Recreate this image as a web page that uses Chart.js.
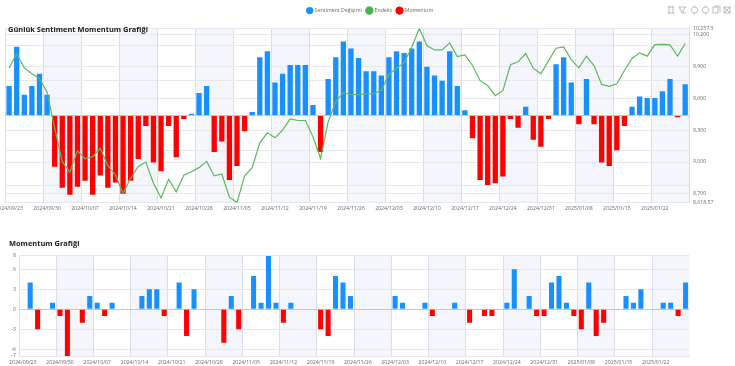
<!DOCTYPE html>
<html><head><meta charset="utf-8">
<script src="https://cdn.jsdelivr.net/npm/chart.js@4"></script>
<style>
html,body{margin:0;padding:0;background:#fff;overflow:hidden;width:735px;height:366px}
canvas{position:absolute}
#wrap{position:absolute;left:0;top:0;width:735px;height:366px;overflow:hidden;filter:blur(0.35px)}
#tools{position:absolute;left:666px;top:4px}
</style></head><body>
<div id="wrap">
<div style="position:absolute;left:-32px;top:0;width:795px;height:222px"><canvas id="c1" style="left:0;top:0"></canvas></div>
<div style="position:absolute;left:0;top:230px;width:735px;height:136px"><canvas id="c2" style="left:0;top:0"></canvas></div>
<svg id="tools" width="68" height="12" fill="none" stroke="#a0a0a0" stroke-width="0.7">
<path d="M2 3h6M2 9h6M3 2v8M7 2v8"/>
<path d="M13 3h7l-3 3v3M13 3l3 6h4"/>
<path d="M27 3h3l2 3-2 3h-3l-2-3zM28.500 1.500v1M28.500 9.500v1"/>
<path d="M38 3h3l2 3-2 3h-3l-2-3zM39.500 1.500v1M39.500 9.500v1"/>
<path d="M47 3h5v6h-5zM49 2h5v6"/>
<path d="M58 3h6v6h-6zM58 3l6 6M64 3l-6 6"/>
</svg>
</div>
<script>
const titleTop = "Günlük Sentiment Momentum Grafiği";
const titleBottom = "Momentum Grafiği";
const seriesNames = ["Sentiment Değişimi", "Endeks", "Momentum"];
const categories = [
"2024/09/23","2024/09/24","2024/09/25","2024/09/26","2024/09/27",
"2024/09/30","2024/10/01","2024/10/02","2024/10/03","2024/10/04",
"2024/10/07","2024/10/08","2024/10/09","2024/10/10","2024/10/11",
"2024/10/14","2024/10/15","2024/10/16","2024/10/17","2024/10/18",
"2024/10/21","2024/10/22","2024/10/23","2024/10/24","2024/10/25",
"2024/10/28","2024/10/30","2024/10/31","2024/11/01","2024/11/04",
"2024/11/05","2024/11/06","2024/11/07","2024/11/08","2024/11/11",
"2024/11/12","2024/11/13","2024/11/14","2024/11/15","2024/11/18",
"2024/11/19","2024/11/20","2024/11/21","2024/11/22","2024/11/25",
"2024/11/26","2024/11/27","2024/11/28","2024/11/29","2024/12/02",
"2024/12/03","2024/12/04","2024/12/05","2024/12/06","2024/12/09",
"2024/12/10","2024/12/11","2024/12/12","2024/12/13","2024/12/16",
"2024/12/17","2024/12/18","2024/12/19","2024/12/20","2024/12/23",
"2024/12/24","2024/12/25","2024/12/26","2024/12/27","2024/12/30",
"2024/12/31","2025/01/02","2025/01/03","2025/01/06","2025/01/07",
"2025/01/08","2025/01/09","2025/01/10","2025/01/13","2025/01/14",
"2025/01/15","2025/01/16","2025/01/17","2025/01/20","2025/01/21",
"2025/01/22","2025/01/23","2025/01/24","2025/01/27","2025/01/28"];
const sentiment = [34,79,24,34,48,24,-59,-83,-91,-82,-75,-91,-69,-83,-77,-90,-75,-50,-12,-54,
-64,-12,-48,-4,2,26,34,-42,-30,-74,-58,-18,4,67,74,38,48,58,58,58,
12,-42,42,67,85,77,66,51,51,46,67,74,72,77,85,56,46,40,74,34,
6,-26,-74,-80,-78,-70,-4,-14,10,-28,-36,-4,59,67,38,-10,42,-10,-54,-58,
-40,-12,10,22,20,20,28,42,-2,36];
const endeks = [9887,10019,9887,9831,9784,9659,9316,9003,8906,9106,9031,9050,9128,8966,8878,8706,8847,8959,9000,8800,
8662,8837,8719,8875,8909,8947,9006,8869,8887,8669,8618.57,8869,8947,9181,9275,9228,9300,9406,9391,9391,
9237,9034,9378,9566,9656,9634,9634,9641,9644,9675,9825,9884,9934,10081,10257.3,10097,10056,10056,10122,9994,
10009,9909,9766,9722,9625,9672,9916,9944,10022,9884,9831,9953,10072,10084,9962,9887,9997,9909,9731,9712,
9737,9862,9975,10028,9997,10106,10109,10103,9997,10116];
const momentum = [0,4,-3,0,1,-1,-7,0,-2,2,1,-1,1,0,0,0,2,3,3,-1,
0,4,-4,3,0,0,0,-5,2,-3,0,5,1,8,1,-2,1,0,0,0,
-3,-4,5,4,2,0,0,0,0,0,2,1,0,0,1,-1,0,0,1,0,
-2,0,-1,-1,0,1,6,0,2,-1,-1,4,5,1,-1,-3,4,-4,-2,0,
0,2,1,3,0,0,1,1,-1,4];
const endeksTicks = [8618.57,8700,9000,9300,9600,9900,10200,10257.3];
const sentimentTicks = [-80,-40,0,40,80];
const momentumTicks = [-7,-6,-3,0,3,6,8];

const BLUE="#1890ff", RED="#ff0000", GREEN="#5cb85c", LEGEND_GREEN="#3fb54a";
const FONT='"Open Sans","Noto Sans",sans-serif';
const GRID="#e6e8f0", VGRID="#dcdfe8", BAND="#f5f6fb", TEXT="#6b6b6b";
Chart.defaults.font.family=FONT;
Chart.defaults.animation=false;
const signColor=c=>(c.raw>=0?BLUE:RED);

const bands={id:'bands',beforeDraw(chart){
  const {ctx,chartArea:a,scales:{x}}=chart;
  const w=x.width/categories.length;
  ctx.save();ctx.fillStyle=BAND;
  for(let i=5;i<categories.length;i+=10){
    const l=x.getPixelForValue(i)-w/2;
    ctx.fillRect(l,a.top,Math.min(w*5,a.right-l),a.bottom-a.top);
  }
  ctx.restore();
}};
const placeTitle=(dx,dy)=>({id:'placeTitle',afterLayout(chart){chart.titleBlock.left+=dx;chart.titleBlock.right+=dx;chart.titleBlock.top+=dy;chart.titleBlock.bottom+=dy;}});
const fixW=w=>s=>{s.width=w};
const fixH=h=>s=>{s.height=h};
const fixTicks=t=>s=>{s.ticks=t.map(v=>({value:v}))};
const xAxis=(h)=>({
  offset:true,
  afterFit:fixH(h),
  border:{display:true,color:GRID},
  grid:{offset:true,drawTicks:false,color:c=>c.index%5===0?VGRID:'transparent',lineWidth:1},
  ticks:{autoSkip:false,maxRotation:0,minRotation:0,padding:3,color:TEXT,font:{size:5.2},
    callback(v,i){return i%5===0?this.getLabelForValue(v):''}}
});

new Chart(document.getElementById('c1'),{
  data:{labels:categories,datasets:[
    {type:'line',label:seriesNames[1],data:endeks,yAxisID:'yR',borderColor:GREEN,backgroundColor:LEGEND_GREEN,pointBackgroundColor:LEGEND_GREEN,pointRadius:0,borderWidth:1.2,tension:0,order:1},
    {type:'bar',label:seriesNames[0],data:sentiment,yAxisID:'yL',backgroundColor:signColor,barPercentage:0.7,categoryPercentage:1,order:2},
    {type:'line',label:seriesNames[2],data:[],yAxisID:'yL',borderColor:RED,backgroundColor:RED,pointBackgroundColor:RED,order:3}
  ]},
  plugins:[bands,placeTitle(2.7,0.5)],
  options:{responsive:true,maintainAspectRatio:false,
    layout:{padding:{left:37.3,right:28,top:3,bottom:0}},
    plugins:{
      tooltip:{enabled:false},
      legend:{display:true,position:'top',weight:1000,
        labels:{usePointStyle:true,pointStyle:'circle',boxWidth:5.4,boxHeight:5.4,padding:5,color:TEXT,font:{size:5.2},
          sort:(a,b)=>[1,0,2].indexOf(a.datasetIndex)-[1,0,2].indexOf(b.datasetIndex)}},
      title:{display:true,text:titleTop,align:'start',weight:500,color:"#1a1a1a",font:{size:7.45,weight:'bold'},padding:{top:2,bottom:-5.6}}
    },
    scales:{
      x:xAxis(19.5),
      yL:{position:'left',min:-100,max:100,afterFit:fixW(0),afterBuildTicks:fixTicks(sentimentTicks),
        border:{display:false},ticks:{display:false},
        grid:{drawTicks:false,color:c=>c.tick&&c.tick.value===0?'#c4c6cc':GRID}},
      yR:{position:'right',min:8618.57,max:10257.3,afterFit:fixW(46),afterBuildTicks:fixTicks(endeksTicks),
        border:{display:true,color:'#d8dbe3'},
        grid:{drawTicks:false,color:GRID},
        ticks:{padding:4,color:TEXT,font:{size:5.2},autoSkip:false,callback:v=>v.toLocaleString('en-US',{maximumFractionDigits:2})}}
    }
  }
});

new Chart(document.getElementById('c2'),{
  data:{labels:categories,datasets:[
    {type:'bar',label:seriesNames[2],data:momentum,backgroundColor:signColor,barPercentage:0.68,categoryPercentage:1}
  ]},
  plugins:[bands,placeTitle(9,1.5)],
  options:{responsive:true,maintainAspectRatio:false,
    layout:{padding:{left:0,right:45.7,top:8,bottom:0}},
    plugins:{tooltip:{enabled:false},legend:{display:false},
      title:{display:true,text:titleBottom,align:'start',color:"#1a1a1a",font:{size:7.45,weight:'bold'},padding:{top:0,bottom:9}}},
    scales:{
      x:xAxis(10),
      y:{position:'left',min:-7,max:8,afterFit:fixW(19),afterBuildTicks:fixTicks(momentumTicks),
        border:{display:false},
        grid:{drawTicks:false,color:c=>c.tick&&c.tick.value===0?'#c4c6cc':GRID},
        ticks:{padding:3,color:TEXT,font:{size:5.2},autoSkip:false}}
    }
  }
});
</script></body></html>
